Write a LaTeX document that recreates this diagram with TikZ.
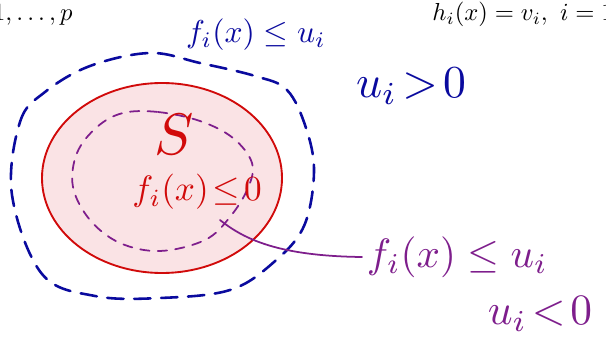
\documentclass[tikz,border=0pt]{standalone}
\usepackage{xcolor}
\definecolor{cInk}{HTML}{0A0A9E}
\definecolor{cSet}{HTML}{D10A0A}
\definecolor{cSetFill}{HTML}{FAE3E5}
\definecolor{cLow}{HTML}{7E1E8C}
\usepackage{tikz}
\usetikzlibrary{positioning,calc}
\tikzset{
  ink-big/.style={scale=2.7},
  ink-huge/.style={scale=3.5},
  slide-text/.style={scale=2.1,inner sep=0pt},
  set-region/.style={draw=cSet,line width=1.6pt,fill=cSetFill},
  level-outer/.style={draw=cInk,line width=2.2pt,dash pattern=on 14pt off 9pt,line cap=round},
  level-inner/.style={draw=cLow,line width=1.5pt,dash pattern=on 8pt off 7pt,line cap=round},
  pointer/.style={draw=cLow,line width=1.5pt,line cap=round},
}
\begin{document}
\begin{tikzpicture}[x=0.03cm,y=-0.03cm]
  \clip (0,0) rectangle (606,339);
  % text of the slide behind the sketch
  \node[slide-text,anchor=base east] (idx-left)  at (73,21)  {$1,\ldots,p$};
  \node[slide-text,anchor=base west] (idx-right) at (432,21) {$h_i(x)=v_i,\ i=1$};
  % level set for u_i > 0
  \draw[level-outer] plot[smooth cycle,tension=0.6] coordinates {
    (12,195) (20,122) (45,92) (90,66) (150,53) (200,63) (255,76) (287,90)
    (306,128) (314,172) (304,226) (274,262) (230,290) (160,298) (95,296) (42,274)};
  % the set S
  \draw[set-region] (162,178) ellipse [x radius=120,y radius=95];
  % level set for u_i < 0
  \draw[level-inner] plot[smooth cycle,tension=0.6] coordinates {
    (123,113) (158,112) (200,121) (233,138) (252,163) (248,188) (230,217)
    (205,240) (160,251) (120,243) (90,220) (73,187) (77,153) (97,127)};
  \coordinate (inner-pt) at (220,220);
  % labels
  \node[ink-big,text=cInk]                (lbl-outer) at (256,35)  {$f_i(x)\leq u_i$};
  \node[scale=3.9,text=cInk]              (lbl-pos)   at (411,86)  {$u_i\!>\!0$};
  \node[scale=5,text=cSet]                (lbl-S)     at (174,134) {$S$};
  \node[ink-huge,text=cSet,scale=0.86]    (lbl-set)   at (197,192) {$f_i(x)\!\leq\! 0$};
  \node[ink-huge,text=cLow,anchor=west,inner sep=1pt] (lbl-inner) at (362,257) {$f_i(x)\leq u_i$};
  \node[scale=3.7,text=cLow]              (lbl-neg)   at (540,314) {$u_i\!<\!0$};
  \draw[pointer] (inner-pt) .. controls (245,240) and (280,256) .. (lbl-inner.west);
\end{tikzpicture}
\end{document}
